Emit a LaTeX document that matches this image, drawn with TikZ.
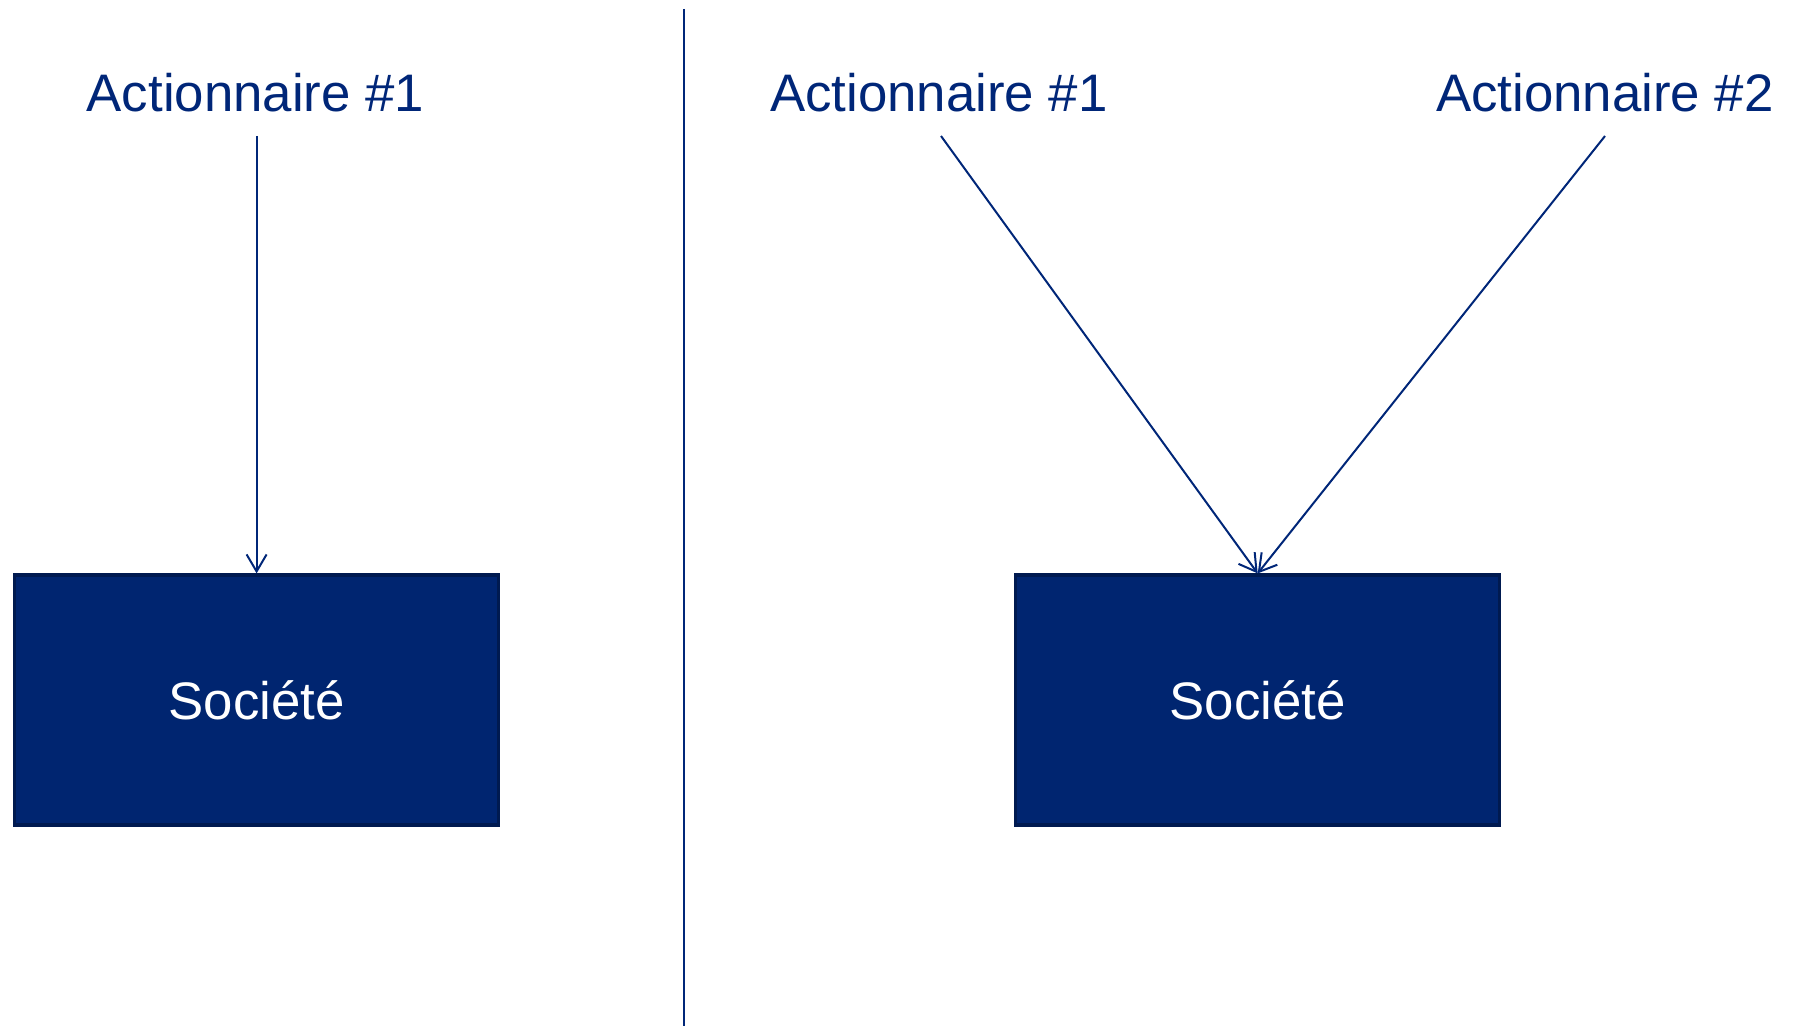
\documentclass[tikz,border=0pt]{standalone}
\usepackage{fontspec}
\setmainfont{Liberation Sans}
\usetikzlibrary{arrows.meta}
\definecolor{navytext}{RGB}{0,38,120}
\definecolor{boxfill}{RGB}{0,37,112}
\definecolor{boxedge}{RGB}{0,26,80}
\begin{document}
\begin{tikzpicture}[x=0.5pt,y=-0.5pt,
  label/.style={font=\fontsize{26.4pt}{30pt}\selectfont, text=navytext, anchor=base, inner sep=0pt},
  company/.style={draw=boxedge, line width=1.6pt, fill=boxfill, minimum width=242pt, minimum height=125pt,
    font=\fontsize{26.4pt}{30pt}\selectfont, text=white, inner sep=0pt},
  link/.style={draw=navytext, line width=1pt, -{Straight Barb[length=8.5pt,width=10pt,line width=1pt]}},
  divider/.style={draw=navytext, line width=1.1pt}]
\useasboundingbox (0,0) rectangle (1800,1026);
% left
\node[label] (a1) at (255.5,112) {Actionnaire \#1};
\coordinate (a1s) at (256.6,136);
\node[company] (s1) at (256.6,700) {Société};
\draw[link] (a1s) -- (s1.north);
% divider
\coordinate (dtop) at (684,9);
\coordinate (dbot) at (684,1026);
\draw[divider] (dtop) -- (dbot);
% right
\node[label] (b1) at (939,112) {Actionnaire \#1};
\node[label] (b2) at (1605,112) {Actionnaire \#2};
\coordinate (b1s) at (941,136);
\coordinate (b2s) at (1605,136);
\node[company] (s2) at (1257.7,700) {Société};
\draw[link] (b1s) -- (s2.north);
\draw[link] (b2s) -- (s2.north);
\end{tikzpicture}
\end{document}
